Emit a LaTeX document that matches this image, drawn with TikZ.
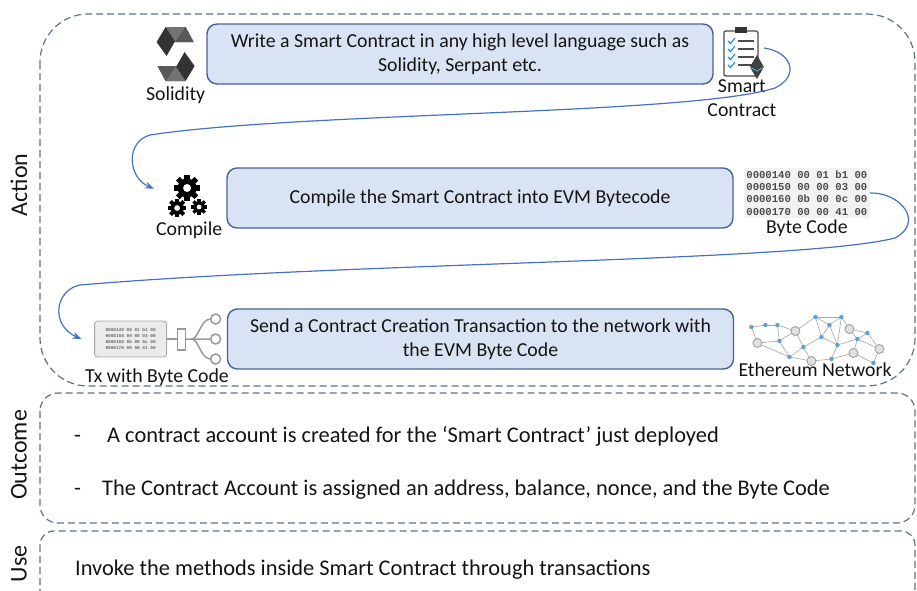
\documentclass[tikz,border=0pt]{standalone}
\usepackage{fontspec}
\setmainfont{Carlito}
\newfontfamily\hexfont{Liberation Mono}
\usetikzlibrary{arrows.meta,positioning}
\definecolor{evmblue}{RGB}{68,114,196}
\definecolor{evmfill}{RGB}{218,227,243}
\definecolor{evmedge}{RGB}{70,98,148}
\definecolor{evmframe}{RGB}{95,112,140}
\definecolor{evmtext}{RGB}{20,20,20}
\definecolor{evmcheck}{RGB}{20,150,225}
\definecolor{evmnode}{RGB}{95,160,215}

\newcommand\txtsz{\fontsize{19.8}{24}\selectfont}
\newcommand\outsz{\fontsize{22.4}{26}\selectfont}
\newcommand\sidesz{\fontsize{24}{28}\selectfont}
% cog wheel: x, y, radius
\newcommand\drawcog[3]{%
  \fill (#1,#2) circle (#3);
  \foreach \a in {0,45,...,315}
    \fill[shift={(#1,#2)},rotate=\a] (-0.28*#3,0) rectangle (0.28*#3,1.38*#3);
  \fill[white] (#1,#2) circle (0.42*#3);}

\begin{document}
\begin{tikzpicture}[x=1pt,y=-1pt,
    stepbox/.style={draw=evmedge,fill=evmfill,line width=1.4pt,rounded corners=10pt,
      minimum width=506pt,minimum height=60pt,align=center,font=\txtsz,text=evmtext},
    lbl/.style={font=\txtsz,text=evmtext,inner sep=0pt,align=center},
    outlbl/.style={font=\outsz,text=evmtext,inner sep=0pt,anchor=base west},
    sidelbl/.style={font=\sidesz,text=evmtext,inner sep=0pt,rotate=90},
    iconbox/.style={inner sep=0pt},
    hexbox/.style={font=\hexfont\bfseries\fontsize{10.6}{12.2}\selectfont,text=black!70,
      fill=black!5,align=left,inner sep=2.5pt},
    frame/.style={draw=evmframe,line width=1.2pt,dash pattern=on 7pt off 4pt},
    flow/.style={draw=evmblue,line width=1.2pt,-{Stealth[length=9pt,width=7pt]}}
  ]
  \useasboundingbox (0,0) rectangle (917,590);

  % frames
  \draw[frame,rounded corners=48pt] (40,14) rectangle (915,386);
  \draw[frame,rounded corners=18pt] (40,393) rectangle (915,523);
  \begin{scope}
    \clip (0,0) rectangle (917,590);
    \draw[frame,rounded corners=14pt] (40,531) rectangle (915,620);
  \end{scope}
  \node[sidelbl] (act) at (19,185) {Action};
  \node[sidelbl] (outc) at (19,455) {Outcome};
  \node[sidelbl] (use) at (19,564) {Use};

  % the three steps
  \node[stepbox] (write) at (460,54) {Write a Smart Contract in any high level language such as\\Solidity, Serpant etc.};
  \node[stepbox] (compile) at (480,198) {Compile the Smart Contract into EVM Bytecode};
  \node[stepbox] (send) at (480.5,339) {Send a Contract Creation Transaction to the network with\\the EVM Byte Code};

  % solidity logo
  \node[iconbox,minimum width=37pt,minimum height=54pt,left=12pt of write] (sol) {};
  \begin{scope}[shift={(sol.center)}]
    \fill[black!80] (-10,-27) -- (10,-27) -- (18,-12) -- (-1,-12) -- (-9,2) -- (-19,-12) -- cycle;
    \fill[black!55] (-10,-27) -- (10,-27) -- (0,-12) -- cycle;
    \fill[black!65] (10,-27) -- (18,-12) -- (0,-12) -- cycle;
    \fill[black!80] (10,27) -- (-10,27) -- (-18,12) -- (1,12) -- (9,-2) -- (19,12) -- cycle;
    \fill[black!55] (10,27) -- (-10,27) -- (0,12) -- cycle;
    \fill[black!65] (-10,27) -- (-18,12) -- (0,12) -- cycle;
  \end{scope}
  \node[lbl,below=5pt of sol] (sollbl) {Solidity};

  % smart contract clipboard
  \node[iconbox,minimum width=44pt,minimum height=54pt,right=6pt of write] (sc) {};
  \begin{scope}[shift={(sc.center)}]
    \draw[black!70,line width=1.3pt,fill=white,rounded corners=2pt] (-18,-23) rectangle (16,22);
    \fill[black!80] (-7,-27) rectangle (5,-21);
    \foreach \r in {-13,-5,3,11} {
      \draw[evmcheck,line width=1.2pt] (-14,\r) -- (-11.5,\r+2.5) -- (-7,\r-3);
      \draw[black!70,line width=1.3pt] (-4,\r) -- (12,\r);
    }
    \fill[black!75] (15,1) -- (22,13) -- (15,25) -- (8,13) -- cycle;
    \draw[evmcheck!70,line width=0.8pt] (8,13) -- (15,17) -- (22,13);
  \end{scope}
  \node[lbl,below=-2pt of sc] (sclbl) {Smart\\Contract};

  % compiler cogs
  \node[iconbox,minimum width=70pt,minimum height=40pt,left=2pt of compile] (cmp) {};
  \begin{scope}[shift={(cmp.center)}]
    \drawcog{-2}{-10}{9.5}
    \drawcog{-12}{10}{6.8}
    \drawcog{10}{9}{5.8}
  \end{scope}
  \node[lbl,below=3pt of cmp] (cmplbl) {Compile};

  % byte code listing
  \node[hexbox,right=10pt of compile,yshift=5pt] (bc) {0000140 00 01 b1 00\\0000150 00 00 03 00\\0000160 0b 00 0c 00\\0000170 00 00 41 00};
  \node[lbl,below=2pt of bc] (bclbl) {Byte Code};

  % transaction icon
  \node[iconbox,minimum width=130pt,minimum height=44pt,left=3pt of send] (tx) {};
  \begin{scope}[shift={(tx.center)}]
    \draw[black!35,fill=black!8,rounded corners=3pt,line width=0.8pt] (-64,-18) rectangle (8,18);
    \node[font=\hexfont\bfseries\fontsize{4.4}{6.2}\selectfont,text=black!60,align=left] (txhex) at (-28,0)
      {0000140 00 01 b1 00\\0000150 00 00 03 00\\0000160 0b 00 0c 00\\0000170 00 00 41 00};
    \draw[black!40,line width=2pt] (8,0) -- (19,0);
    \draw[black!40,line width=1.5pt,fill=white] (19,-10) rectangle (27,11);
    \draw[black!40,line width=1.5pt] (27,0) -- (52,0)
      (33,0) .. controls (40,0) and (42,-20) .. (52,-20)
      (33,0) .. controls (40,0) and (42,20) .. (52,20);
    \foreach \c in {-20,0,20}
      \draw[black!40,line width=1.5pt,fill=white] (57,\c) circle (5);
  \end{scope}
  \node[lbl] (txlbl) at (157,377) {Tx with Byte Code};

  % ethereum network
  \node[iconbox,minimum width=150pt,minimum height=50pt,right=8pt of send] (net) {};
  \begin{scope}[shift={(net.center)}]
    \foreach \i/\x/\y in {1/-66/-12,2/-52/-14,3/-40/-14,4/-22/-8,5/-2/-22,
        6/12/-14,7/32/-10,8/50/-6,9/-60/4,10/-38/2,11/-14/8,
        12/4/-2,13/20/6,14/40/0,15/62/10,16/-28/18,17/-6/22,
        18/14/20,19/36/14,20/56/24,21/24/-22}
      \coordinate (p\i) at (\x,\y);
    \foreach \a/\b in {1/2,2/3,3/4,4/5,5/6,6/21,21/7,7/8,8/15,1/9,9/10,10/4,4/11,11/12,
        12/5,12/13,13/6,13/14,14/7,14/15,9/16,10/16,16/17,11/17,17/18,18/13,18/19,
        19/14,19/20,15/20,12/6,3/10,11/16,21/13,8/14,5/21}
      \draw[black!35,line width=0.6pt] (p\a) -- (p\b);
    \foreach \i in {4,7,9,15,17,19}
      \draw[black!40,fill=black!12,line width=0.8pt] (p\i) circle (4.5);
    \foreach \i in {1,2,3,5,6,8,10,11,12,13,14,16,18,20,21}
      \fill[evmnode] (p\i) circle (2.2);
  \end{scope}
  \node[lbl] (netlbl) at (815,370) {Ethereum Network};

  % flow between the steps
  \draw[flow] ([yshift=6pt]sc.east) .. controls (792,52) and (800,76) .. (775,88)
    .. controls (690,115) and (300,112) .. (150,135)
    .. controls (125,142) and (128,178) .. (cmp.165);
  \draw[flow] (bc.east) .. controls (900,192) and (925,222) .. (895,238)
    .. controls (800,262) and (350,262) .. (80,285)
    .. controls (55,290) and (50,325) .. ([xshift=-12pt]tx.west);

  % outcome and use
  \node[outlbl] (dash1) at (74,442) {-};
  \node[outlbl] (out1) at (107,442) {A contract account is created for the ‘Smart Contract’ just deployed};
  \node[outlbl] (dash2) at (74,495) {-};
  \node[outlbl] (out2) at (102,495) {The Contract Account is assigned an address, balance, nonce, and the Byte Code};
  \node[outlbl] (use1) at (75,575) {Invoke the methods inside Smart Contract through transactions};
\end{tikzpicture}
\end{document}
